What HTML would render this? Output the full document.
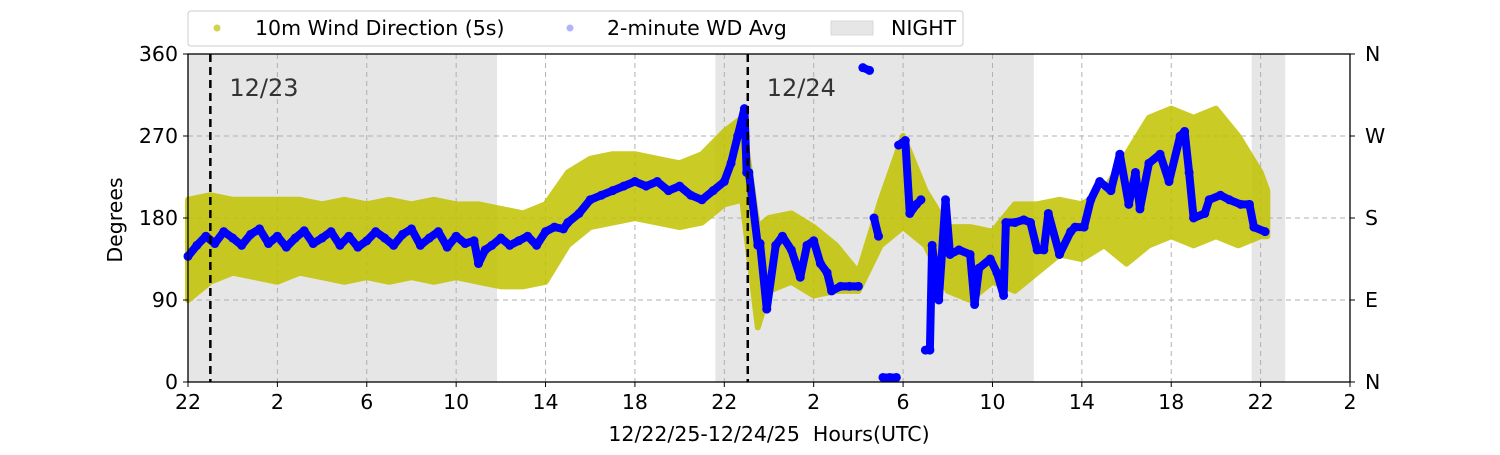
<!DOCTYPE html>
<html><head><meta charset="utf-8"><style>
body{margin:0;background:#fff;}
svg text{font-family:"DejaVu Sans","Liberation Sans",sans-serif;}
</style></head><body>
<svg id="chart" width="1500" height="450" viewBox="0 0 1500 450" xmlns="http://www.w3.org/2000/svg">
<g id="night"></g>
<g id="grid"></g>
<g id="band"></g>
<g id="avg"></g>
<g id="markers"></g>
<rect x="188" y="54" width="1162" height="328" fill="none" stroke="#000" stroke-width="1.3"/>
<g id="axes"></g>
<text x="122" y="220" font-size="20.5" text-anchor="middle" transform="rotate(-90 122 220)">Degrees</text>
<text x="769" y="441" font-size="20.5" text-anchor="middle" xml:space="preserve">12/22/25-12/24/25  Hours(UTC)</text>
<g>
<rect x="188" y="11" width="775" height="35" rx="3" fill="#fff" stroke="#ccc"/>
<circle cx="217" cy="28" r="3.5" fill="#bfbf00" opacity="0.7"/>
<text x="255" y="35" font-size="20.5">10m Wind Direction (5s)</text>
<circle cx="570" cy="28" r="3.5" fill="#0000ff" opacity="0.3"/>
<text x="607" y="35" font-size="20.5">2-minute WD Avg</text>
<rect x="831" y="21" width="42" height="14" fill="#e6e6e6" stroke="#d8d8d8"/>
<text x="891" y="35" font-size="20.5">NIGHT</text>
</g>
</svg>
<script>
const xTickLabels=["22","2","6","10","14","18","22","2","6","10","14","18","22","2"];
const yTicks=[0,90,180,270,360];
const rightLabels=["N","E","S","W","N"];
const nightStart=[0,23.6,47.6];
const nightEnd=[13.83,37.85,49.1];
const dayMarkerHours=[1,25.05];
const dayMarkerLabels=["12/23","12/24"];
const bandHours=[0,1,2,3,4,5,6,7,8,9,10,11,12,13,14,15,16,17,18,19,20,21,22,23,24,24.8,25.5,26,27,28,29,30,31,32,33,34,35,36,37,38,39,40,41,42,43,44,45,46,47,48,48.3];
const bandLo=[90,110,120,115,110,120,115,110,115,110,115,110,115,110,105,105,110,150,170,175,180,175,170,175,195,200,60,100,110,95,100,100,150,170,150,100,90,110,100,120,140,135,150,130,150,160,150,160,150,160,160];
const bandHi=[200,205,200,200,200,200,195,200,195,200,195,200,195,195,190,185,195,230,245,250,250,245,240,250,275,290,170,180,185,170,150,120,200,270,210,170,170,165,195,195,200,195,210,250,290,300,290,300,270,230,210];
const avgHours=[0,0.4,0.8,1.2,1.6,2,2.4,2.8,3.2,3.6,4,4.4,4.8,5.2,5.6,6,6.4,6.8,7.2,7.6,8,8.4,8.8,9.2,9.6,10,10.4,10.8,11.2,11.6,12,12.4,12.8,13,13.3,13.6,14,14.4,14.8,15.2,15.6,16,16.4,16.8,17,17.5,18,18.5,19,19.5,20,20.5,21,21.5,22,22.5,23,23.5,24,24.3,24.6,24.9,25.0,25.1,25.5,25.6,25.9,26.3,26.6,27,27.4,27.7,28,28.3,28.6,28.8,29.2,29.6,30.0,30.2,30.5,30.7,30.9,31.1,31.4,31.7,31.8,32.1,32.3,32.6,32.8,33.0,33.2,33.3,33.6,33.9,34.1,34.5,35.0,35.2,35.4,35.9,36.2,36.5,36.6,37.0,37.4,37.7,38.0,38.3,38.5,39.0,39.5,39.7,40.1,40.4,40.8,41.3,41.7,42.1,42.4,42.6,43.0,43.5,43.9,44.4,44.6,44.8,45.0,45.5,45.7,46.2,46.6,47.1,47.5,47.7,48.2];
const avgDeg=[138,150,160,152,165,158,150,162,168,152,160,148,158,166,152,158,165,150,160,148,155,165,158,150,162,168,150,158,165,148,160,152,155,130,145,150,158,150,155,160,150,165,170,168,175,185,200,205,210,215,220,215,220,210,215,205,200,210,220,240,270,300,230,230,150,152,80,150,160,145,115,150,155,130,120,100,105,105,105,345,342,180,160,5,5,5,260,265,185,195,200,35,35,150,90,200,140,145,140,85,125,135,120,95,175,175,178,175,145,145,185,140,165,170,170,200,220,210,250,195,230,190,240,250,220,270,275,230,180,185,200,205,200,195,195,170,165];
const X0=188,X1=1350,Y0=382,Y1=54,HMAX=52;
const xs=h=>X0+h*(X1-X0)/HMAX, ys=d=>Y0-d*(Y0-Y1)/360;
const NS="http://www.w3.org/2000/svg";
function mk(tag,attrs,parent){const e=document.createElementNS(NS,tag);for(const k in attrs)e.setAttribute(k,attrs[k]);document.getElementById(parent).appendChild(e);return e;}
for(let i=0;i<nightStart.length;i++){
 const r=mk('rect',{x:xs(nightStart[i]),y:Y1,width:xs(nightEnd[i])-xs(nightStart[i]),height:Y0-Y1,fill:'#e6e6e6'},'night');
 
 
}
xTickLabels.forEach((t,i)=>{
 const x=xs(i*4);
 if(i>0&&i<xTickLabels.length-1){const g=mk('line',{x1:x,x2:x,y1:Y1,y2:Y0,stroke:'#b0b0b0','stroke-dasharray':'5,4','stroke-width':1},'grid');}
 const tk=mk('line',{x1:x,x2:x,y1:Y0,y2:Y0+5,stroke:'#000'},'axes');
 const tx=mk('text',{x:x,y:Y0+27,'font-size':20.5,'text-anchor':'middle'},'axes');tx.textContent=t;
 
 
});
yTicks.forEach((d,i)=>{
 const y=ys(d);
 if(d>0&&d<360){const g=mk('line',{x1:X0,x2:X1,y1:y,y2:y,stroke:'#b0b0b0','stroke-dasharray':'5,4'},'grid');}
 mk('line',{x1:X0-5,x2:X0,y1:y,y2:y,stroke:'#000'},'axes');
 mk('line',{x1:X1,x2:X1+5,y1:y,y2:y,stroke:'#000'},'axes');
 const t=mk('text',{x:X0-10,y:y+7,'font-size':20.5,'text-anchor':'end'},'axes');t.textContent=d;
 
 
 const r=mk('text',{x:X1+15,y:y+7,'font-size':20.5},'axes');r.textContent=rightLabels[i];
 
 
});
let pts=bandHours.map((h,i)=>xs(h)+','+ys(bandHi[i]));
for(let i=bandHours.length-1;i>=0;i--)pts.push(xs(bandHours[i])+','+ys(bandLo[i]));
const bp=mk('polygon',{points:pts.join(' '),fill:'#c2c200',opacity:0.85,stroke:'#c2c200','stroke-width':6,'stroke-linejoin':'round'},'band');


let seg=[];
function flush(){if(seg.length>1){const p=mk('polyline',{points:seg.join(' '),fill:'none',stroke:'#0000ff','stroke-width':8,'stroke-linejoin':'round','stroke-linecap':'round'},'avg');}seg=[];}
avgHours.forEach((h,i)=>{
 if(i>0&&Math.abs(avgDeg[i]-avgDeg[i-1])>150)flush();
 seg.push(xs(h)+','+ys(avgDeg[i]));
 const c=mk('circle',{cx:xs(h),cy:ys(avgDeg[i]),r:4.5,fill:'#0000ff'},'avg');
 
 
});
flush();
dayMarkerHours.forEach((h,i)=>{
 const l=mk('line',{x1:xs(h),x2:xs(h),y1:Y1,y2:Y0,stroke:'#000','stroke-width':2.5,'stroke-dasharray':'8,5'},'markers');
 
 
 const t=mk('text',{x:xs(h)+19,y:96,'font-size':24,fill:'#333'},'markers');t.textContent=dayMarkerLabels[i];
 
 
});
</script>
</body></html>
